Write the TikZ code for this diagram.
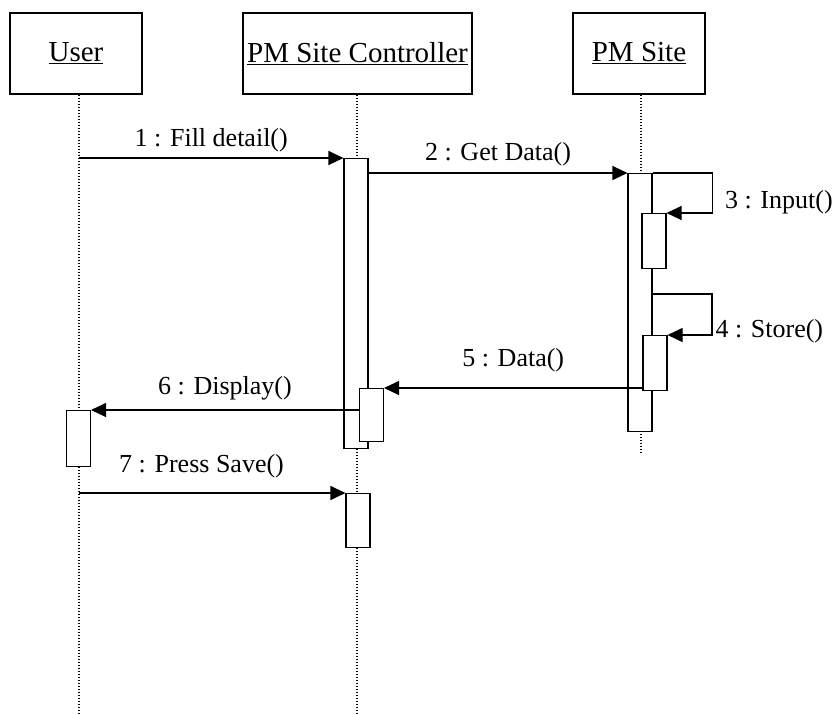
\documentclass[tikz,border=0pt]{standalone}
\usepackage{fontspec}
\setmainfont{Liberation Serif}
\usetikzlibrary{arrows.meta}

\begin{document}
\begin{tikzpicture}[x=1pt, y=-1pt, >={Triangle[length=15pt,width=14pt]},
  obj/.style={draw, line width=1.3pt, minimum height=81pt, inner sep=0pt, font=\fontsize{29}{31}\selectfont},
  act/.style={draw, fill=white, line width=1.1pt, minimum width=24pt, inner sep=0pt, anchor=north},
  life/.style={dash pattern=on 1.5pt off 1.5pt, line width=1.4pt},
  msg/.style={->, line width=1.1pt},
  lbl/.style={inner sep=0pt, font=\fontsize{26}{28}\selectfont}]
\useasboundingbox (0,0) rectangle (835,713);
\node[obj, minimum width=132pt] (user) at (76,53.5) {\underline{User}};
\node[obj, minimum width=229pt] (ctrl) at (357.5,53.5) {\underline{PM Site Controller}};
\node[obj, minimum width=132pt] (site) at (639,53.5) {\underline{PM Site}};
\coordinate (userend) at (79,713);
\coordinate (ctrlend) at (357,713);
\coordinate (siteend) at (641,452);
\foreach \o/\e in {user/userend, ctrl/ctrlend, site/siteend}{
    \draw[life] (\o.south -| \e) -- (\e);
}
\node[act, minimum height=290pt] (c1) at (356,158) {};
\node[act, minimum height=258pt] (p1) at (640,173) {};
\node[act, minimum height=55pt] (p2) at (654,213) {};
\node[act, minimum height=55pt] (p3) at (655,335) {};
\node[act, minimum height=53pt] (c2) at (371.5,388) {};
\node[act, minimum height=56pt] (u1) at (78.5,410) {};
\node[act, minimum height=54pt] (c3) at (358,493) {};
\coordinate (m1) at (79,158);
\coordinate (m4) at (652,294);
\coordinate (m7) at (79,493);
\draw[msg] (m1) -- node[lbl, above=5pt] {1 : Fill detail()} (c1.north west);
\draw[msg] (c1.east |- p1.north) -- node[lbl, above=6pt] {2 : Get Data()} (p1.north west);
\draw[msg] (p1.north east) -- ++(60,0) -- node[lbl, pos=.72, right=12pt] {3 : Input()} ++(0,40) -- (p2.north east);
\draw[msg] (m4) -- ++(60,0) -- node[lbl, pos=.9, right=3pt] {4 : Store()} ++(0,41) -- (p3.north east);
\draw[msg] (p3.west |- c2.north) -- node[lbl, above=15pt] {5 : Data()} (c2.north east);
\draw[msg] (c2.west |- u1.north) -- node[lbl, above=9pt] {6 : Display()} (u1.north east);
\draw[msg] (m7) -- node[lbl, pos=.46, above=14pt] {7 : Press Save()} (c3.north west);
\end{tikzpicture}
\end{document}
